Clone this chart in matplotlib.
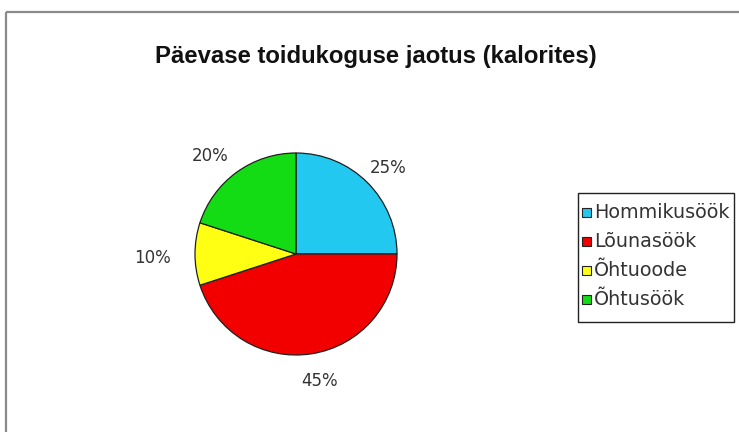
import matplotlib
matplotlib.use("Agg")
import matplotlib.pyplot as plt
import numpy as np
from matplotlib.patches import Rectangle

categories = ["Hommikusöök", "Lõunasöök", "Õhtuoode", "Õhtusöök"]
values = [25, 45, 10, 20]
pct_labels = ["25%", "45%", "10%", "20%"]
colors = ["#22C8F0", "#F20000", "#FFFF14", "#14DC14"]
title = "Päevase toidukoguse jaotus (kalorites)"

plt.rcParams['font.family'] = ['DejaVu Sans']

W, H = 739, 432
fig = plt.figure(figsize=(W/100, H/100), dpi=100)
fig.patch.set_facecolor("white")

ax = fig.add_axes([0, 0, 1, 1])
ax.set_xlim(0, W)
ax.set_ylim(0, H)
ax.set_aspect('equal')
ax.axis('off')

# outer frame (top and left visible)
ax.plot([6, W], [H-12, H-12], color="#8a8a8a", lw=1.6, solid_capstyle='butt')
ax.plot([6, 6], [H-12, 0], color="#8a8a8a", lw=1.6, solid_capstyle='butt')

cx, cy, r = 296, H-254, 101
wedges, _ = ax.pie(values, colors=colors, startangle=90, counterclock=False,
                   center=(cx, cy), radius=r, frame=True,
                   wedgeprops=dict(edgecolor="#202020", linewidth=0.9))
ax.set_xlim(0, W)
ax.set_ylim(0, H)
ax.axis('off')

dists = [1.25, 1.28, 1.42, 1.29]
angle_shift = [-2, 1.5, 1.5, 5]
for w, lab, d, s in zip(wedges, pct_labels, dists, angle_shift):
    th = np.deg2rad((w.theta1 + w.theta2) / 2 + s)
    ax.text(cx + d*r*np.cos(th), cy + d*r*np.sin(th), lab, ha='center', va='center',
            fontsize=12, color="#333333")

ax.text(376, H-56, title, ha='center', va='center', fontsize=17.2, fontweight='bold',
        color="#111111", family=['Liberation Sans', 'DejaVu Sans'])

# legend box drawn by hand
lx0, ly0, lx1, ly1 = 578, 193, 734, 322
ax.add_patch(Rectangle((lx0, H-ly1), lx1-lx0, ly1-ly0, facecolor='white',
                       edgecolor="#222222", linewidth=1.0, zorder=5))
row0, pitch, sq = 212, 29.3, 9
for i, (c, name) in enumerate(zip(colors, categories)):
    yy = H - (row0 + i*pitch)
    ax.add_patch(Rectangle((582, yy - sq/2), sq, sq, facecolor=c,
                           edgecolor="#222222", linewidth=0.8, zorder=6))
    ax.text(594, yy, name, ha='left', va='center', fontsize=13.8,
            color="#333333", zorder=6)

fig.savefig("out.png", dpi=100)
